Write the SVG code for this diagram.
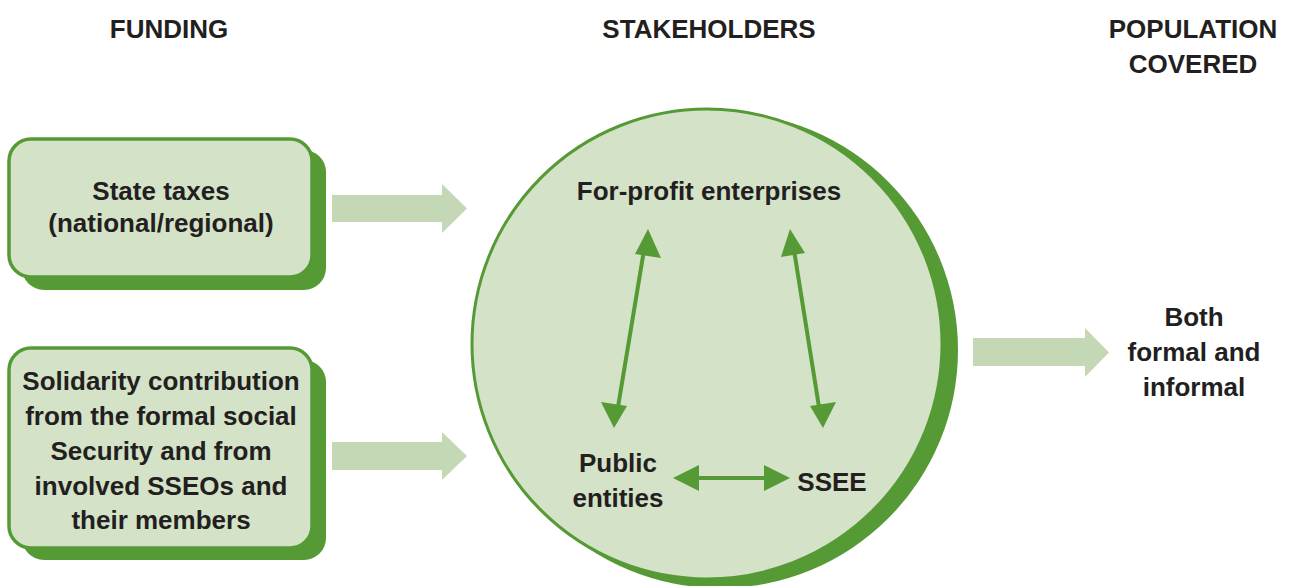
<svg xmlns="http://www.w3.org/2000/svg" width="1292" height="586" viewBox="0 0 1292 586">
<style>
.t{font-family:"Liberation Sans",Arial,sans-serif;font-weight:bold;font-size:26px;fill:#231f20;text-anchor:middle}
.shadow{fill:#559a35}
.box{fill:#d4e2c8;stroke:#559a35;stroke-width:3.5}
.big{fill:#c5d8b5}
.link{stroke:#559a35;stroke-width:4;fill:none}
.head{fill:#559a35}
</style>
<rect width="1292" height="586" fill="#ffffff"/>
<g id="headers">
<text class="t" x="169" y="38">FUNDING</text>
<text class="t" x="709" y="38">STAKEHOLDERS</text>
<text class="t" x="1193" y="38">POPULATION</text>
<text class="t" x="1193" y="73">COVERED</text>
</g>
<g id="node-state-taxes">
<rect class="shadow" x="22" y="150" width="304" height="140" rx="22"/>
<rect class="box" x="9" y="139" width="303" height="138" rx="22"/>
<text class="t" x="161" y="200">State taxes</text>
<text class="t" x="161" y="232">(national/regional)</text>
</g>
<g id="node-solidarity">
<rect class="shadow" x="22" y="360" width="304" height="200" rx="22"/>
<rect class="box" x="9" y="348" width="303" height="200" rx="22"/>
<text class="t" x="161" y="390">Solidarity contribution</text>
<text class="t" x="161" y="425">from the formal social</text>
<text class="t" x="161" y="460">Security and from</text>
<text class="t" x="161" y="495">involved SSEOs and</text>
<text class="t" x="161" y="529">their members</text>
</g>
<g id="node-stakeholders">
<circle class="shadow" cx="720" cy="350" r="238"/>
<circle cx="707" cy="344" r="235" fill="#d4e2c8" stroke="#559a35" stroke-width="3"/>
</g>
<g id="node-forprofit"><text class="t" x="709" y="200">For-profit enterprises</text></g>
<g id="node-public"><text class="t" x="618" y="472">Public</text><text class="t" x="618" y="507">entities</text></g>
<g id="node-ssee"><text class="t" x="832" y="491">SSEE</text></g>
<g id="node-population">
<text class="t" x="1194" y="326">Both</text>
<text class="t" x="1194" y="361">formal and</text>
<text class="t" x="1194" y="396">informal</text>
</g>
<g id="connectors">
<polygon class="big" points="332,195 442,195 442,184 467,208.5 442,233 442,222 332,222"/>
<polygon class="big" points="332,442 442,442 442,432 467,456 442,480 442,470 332,470"/>
<polygon class="big" points="973,338 1085,338 1085,328 1109,352.5 1085,377 1085,366 973,366"/>
<line class="link" x1="644" y1="250" x2="618" y2="407"/>
<polygon class="head" points="648,229 635,254 661,258"/>
<polygon class="head" points="614,428 601,402 627,406"/>
<line class="link" x1="794" y1="250" x2="819" y2="407"/>
<polygon class="head" points="790,229 781,257 805,253"/>
<polygon class="head" points="823,428 810,406 836,402"/>
<line class="link" x1="695" y1="478" x2="768" y2="478"/>
<polygon class="head" points="673,478 699,465 699,491"/>
<polygon class="head" points="790,478 764,465 764,491"/>
</g>
</svg>
